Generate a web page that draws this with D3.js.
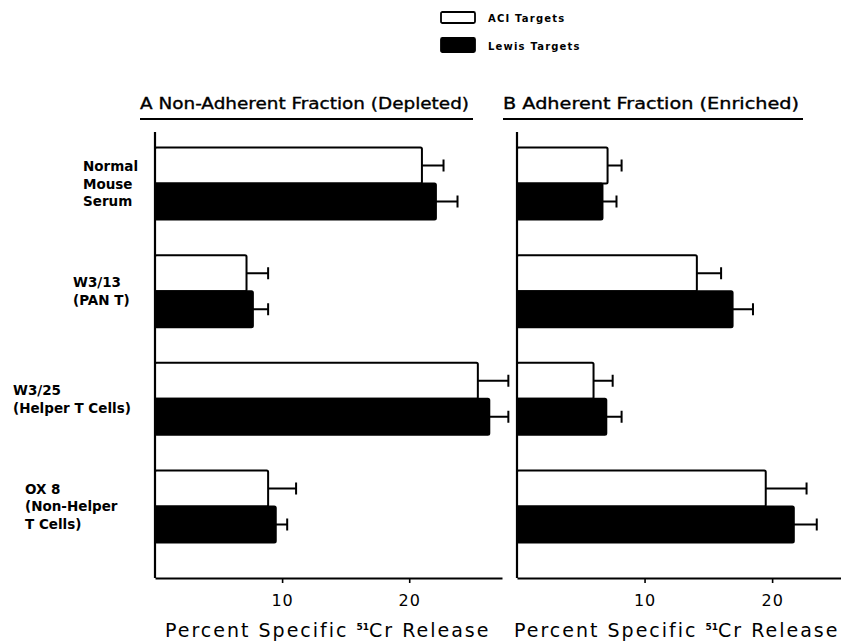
<!DOCTYPE html>
<html>
<head>
<meta charset="utf-8">
<script src="https://cdn.jsdelivr.net/npm/d3@7"></script>
<style>
  body { margin: 0; background: #fff; }
  svg { display: block; font-family: "DejaVu Sans", sans-serif; }
</style>
</head>
<body>
<div id="chart"></div>
<script>
// categories, top to bottom
const categories = ["Normal Mouse Serum", "W3/13 (PAN T)", "W3/25 (Helper T Cells)", "OX 8 (Non-Helper T Cells)"];
const categoryLines = [["Normal", "Mouse", "Serum"], ["W3/13", "(PAN T)"], ["W3/25", "(Helper T Cells)"], ["OX 8", "(Non-Helper", "T Cells)"]];
const series = ["ACI Targets", "Lewis Targets"];

// A: non-adherent fraction (depleted)
const depletedACI = [21.0, 7.2, 25.4, 8.9];
const depletedACIErr = [1.7, 1.7, 2.4, 2.2];
const depletedLewis = [22.1, 7.7, 26.3, 9.5];
const depletedLewisErr = [1.7, 1.2, 1.5, 0.9];

// B: adherent fraction (enriched)
const enrichedACI = [7.1, 14.1, 6.0, 19.5];
const enrichedACIErr = [1.1, 1.9, 1.5, 3.2];
const enrichedLewis = [6.7, 16.9, 7.0, 21.7];
const enrichedLewisErr = [1.1, 1.6, 1.2, 1.8];

const tickValues = [10, 20];

const width = 841;
const height = 642;

const svg = d3.select("#chart")
    .append("svg")
    .attr("width", width)
    .attr("height", height);

const y = d3.scaleBand()
    .domain(categories)
    .range([112, 578])
    .paddingInner(0.33)
    .paddingOuter(0.33);

const ySeries = d3.scaleBand()
    .domain(series)
    .range([0, y.bandwidth()]);

const fills = ["#fff", "#000"];

const panels = [
    { title: "A Non-Adherent Fraction (Depleted)", titleX: 140, lineX: [140, 473],
      x: d3.scaleLinear().domain([0, 27.3]).range([155, 502]),
      values: [depletedACI, depletedLewis], errors: [depletedACIErr, depletedLewisErr], labelX: 165 },
    { title: "B  Adherent Fraction (Enriched)", titleX: 503, lineX: [503, 803],
      x: d3.scaleLinear().domain([0, 25.4]).range([517, 841]),
      values: [enrichedACI, enrichedLewis], errors: [enrichedACIErr, enrichedLewisErr], labelX: 514 }
];

panels.forEach(p => {
    const g = svg.append("g");
    const x0 = p.x.range()[0];

    // title + underline
    g.append("text")
        .attr("x", p.titleX)
        .attr("y", 109)
        .style("font-size", "15.5px")
        .style("stroke", "#000")
        .style("stroke-width", "0.35px")
        .attr("textLength", p.lineX[1] - p.lineX[0] - 4)
        .attr("lengthAdjust", "spacingAndGlyphs")
        .text(p.title);

    g.append("line")
        .attr("x1", p.lineX[0]).attr("x2", p.lineX[1])
        .attr("y1", 119).attr("y2", 119)
        .attr("stroke", "#000").attr("stroke-width", 2);

    // bars
    series.forEach((s, si) => {
        const rows = categories.map((c, i) => ({
            cat: c, value: p.values[si][i], err: p.errors[si][i]
        }));

        const bars = g.selectAll(null)
            .data(rows)
            .enter()
            .append("g");

        bars.append("path")
            .attr("d", d => {
                const cy = y(d.cat) + ySeries(s) + ySeries.bandwidth() / 2;
                const xe = p.x(d.value);
                return `M${xe},${cy}H${p.x(d.value + d.err)}M${p.x(d.value + d.err)},${cy - 6}V${cy + 6}`;
            })
            .attr("stroke", "#000")
            .attr("stroke-width", 2)
            .attr("fill", "none");

        bars.append("rect")
            .attr("x", x0)
            .attr("y", d => y(d.cat) + ySeries(s))
            .attr("width", d => p.x(d.value) - x0)
            .attr("height", ySeries.bandwidth())
            .attr("rx", 1.5)
            .attr("fill", fills[si])
            .attr("stroke", "#000")
            .attr("stroke-width", 2);
    });

    // y axis line
    g.append("line")
        .attr("x1", x0).attr("x2", x0)
        .attr("y1", 132).attr("y2", 578)
        .attr("stroke", "#000").attr("stroke-width", 2.2);

    // x axis
    const axis = g.append("g")
        .attr("transform", "translate(0,578)")
        .call(d3.axisBottom(p.x).tickValues(tickValues).tickSize(5).tickSizeOuter(0).tickPadding(12));
    axis.select(".domain").attr("stroke-width", 2.2);
    axis.selectAll(".tick line").attr("stroke-width", 1.6);
    axis.selectAll(".tick text")
        .style("font-family", "DejaVu Sans, sans-serif")
        .style("font-size", "16px")
        .style("letter-spacing", "1px");

    // axis title
    const t = g.append("text")
        .attr("x", p.labelX)
        .attr("y", 637)
        .style("font-size", "19px")
        .style("letter-spacing", "2px");
    t.append("tspan").text("Percent Specific ");
    t.append("tspan").attr("dy", -7).style("font-size", "9px").style("font-weight", "bold").style("letter-spacing", "0px").text("51");
    t.append("tspan").attr("dy", 7).text("Cr Release");
});

// category labels
const labelX = [83, 73, 13, 25];
const lineH = 17.5;
categoryLines.forEach((lines, i) => {
    const cy = y(categories[i]) + y.bandwidth() / 2;
    const top = cy - (lines.length - 1) * lineH / 2 + 5;
    svg.append("text")
        .attr("x", labelX[i])
        .attr("y", top)
        .style("font-size", "13.5px")
        .style("font-weight", "bold")
        .selectAll("tspan")
        .data(lines)
        .enter()
        .append("tspan")
        .attr("x", labelX[i])
        .attr("dy", (d, j) => j === 0 ? 0 : lineH)
        .text(d => d);
});

// legend
const legend = svg.append("g").attr("transform", "translate(441,12)");
series.forEach((s, i) => {
    legend.append("rect")
        .attr("x", 0).attr("y", i * 26)
        .attr("width", 34).attr("height", i === 0 ? 11 : 14)
        .attr("rx", 1.5)
        .attr("fill", fills[i])
        .attr("stroke", "#000")
        .attr("stroke-width", 1.8);
    legend.append("text")
        .attr("x", 47)
        .attr("y", i * 26 + 10 + i * 2)
        .style("font-size", "10px")
        .style("font-weight", "bold")
        .style("letter-spacing", "1.2px")
        .text(s);
});
</script>
</body>
</html>
